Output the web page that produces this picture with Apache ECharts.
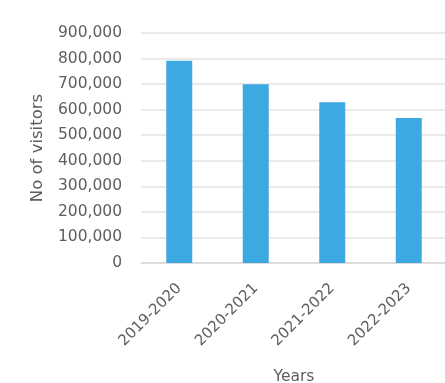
<!DOCTYPE html>
<html><head><meta charset="utf-8">
<script src="https://cdn.jsdelivr.net/npm/echarts@6/dist/echarts.min.js"></script>
<style>html,body{margin:0;padding:0;background:#fff}#c{width:445px;height:383px}</style>
</head><body><div id="c"></div>
<script>
var categories = ['2019-2020', '2020-2021', '2021-2022', '2022-2023'];
var visitors = [791000, 699000, 629000, 567000];
var yTicks = {min: 0, max: 900000, interval: 100000};
var xName = 'Years';
var yName = 'No of visitors';

var chart = echarts.init(document.getElementById('c'), null, {renderer: 'canvas'});
var font = 'DejaVu Sans';
var txt = '#5e5e5e';
chart.setOption({
  animation: false,
  grid: {left: 141, right: -2, top: 33, bottom: 120, containLabel: false, outerBoundsMode: 'none'},
  xAxis: {
    type: 'category', data: categories,
    name: xName, nameLocation: 'middle', nameGap: 106,
    nameTextStyle: {fontFamily: font, fontSize: 15.5, color: txt},
    axisLine: {show: true, lineStyle: {color: '#d9d9d9', width: 1.5}},
    axisTick: {show: false},
    axisLabel: {rotate: 45, margin: 23, fontFamily: font, fontSize: 15, color: txt, interval: 0}
  },
  yAxis: {
    type: 'value', min: yTicks.min, max: yTicks.max, interval: yTicks.interval,
    name: yName, nameLocation: 'middle', nameGap: 95, nameRotate: 90,
    nameTextStyle: {fontFamily: font, fontSize: 16.5, color: txt},
    axisLine: {show: false}, axisTick: {show: false},
    splitLine: {lineStyle: {color: '#e3e3e3', width: 1.5}},
    axisLabel: {margin: 19, fontFamily: font, fontSize: 15.5, color: txt,
      formatter: function (v) { return v.toLocaleString('en-US'); }}
  },
  series: [{
    type: 'bar', data: visitors, barWidth: 26,
    itemStyle: {color: '#3ca9e0'}
  }]
});
</script></body></html>
